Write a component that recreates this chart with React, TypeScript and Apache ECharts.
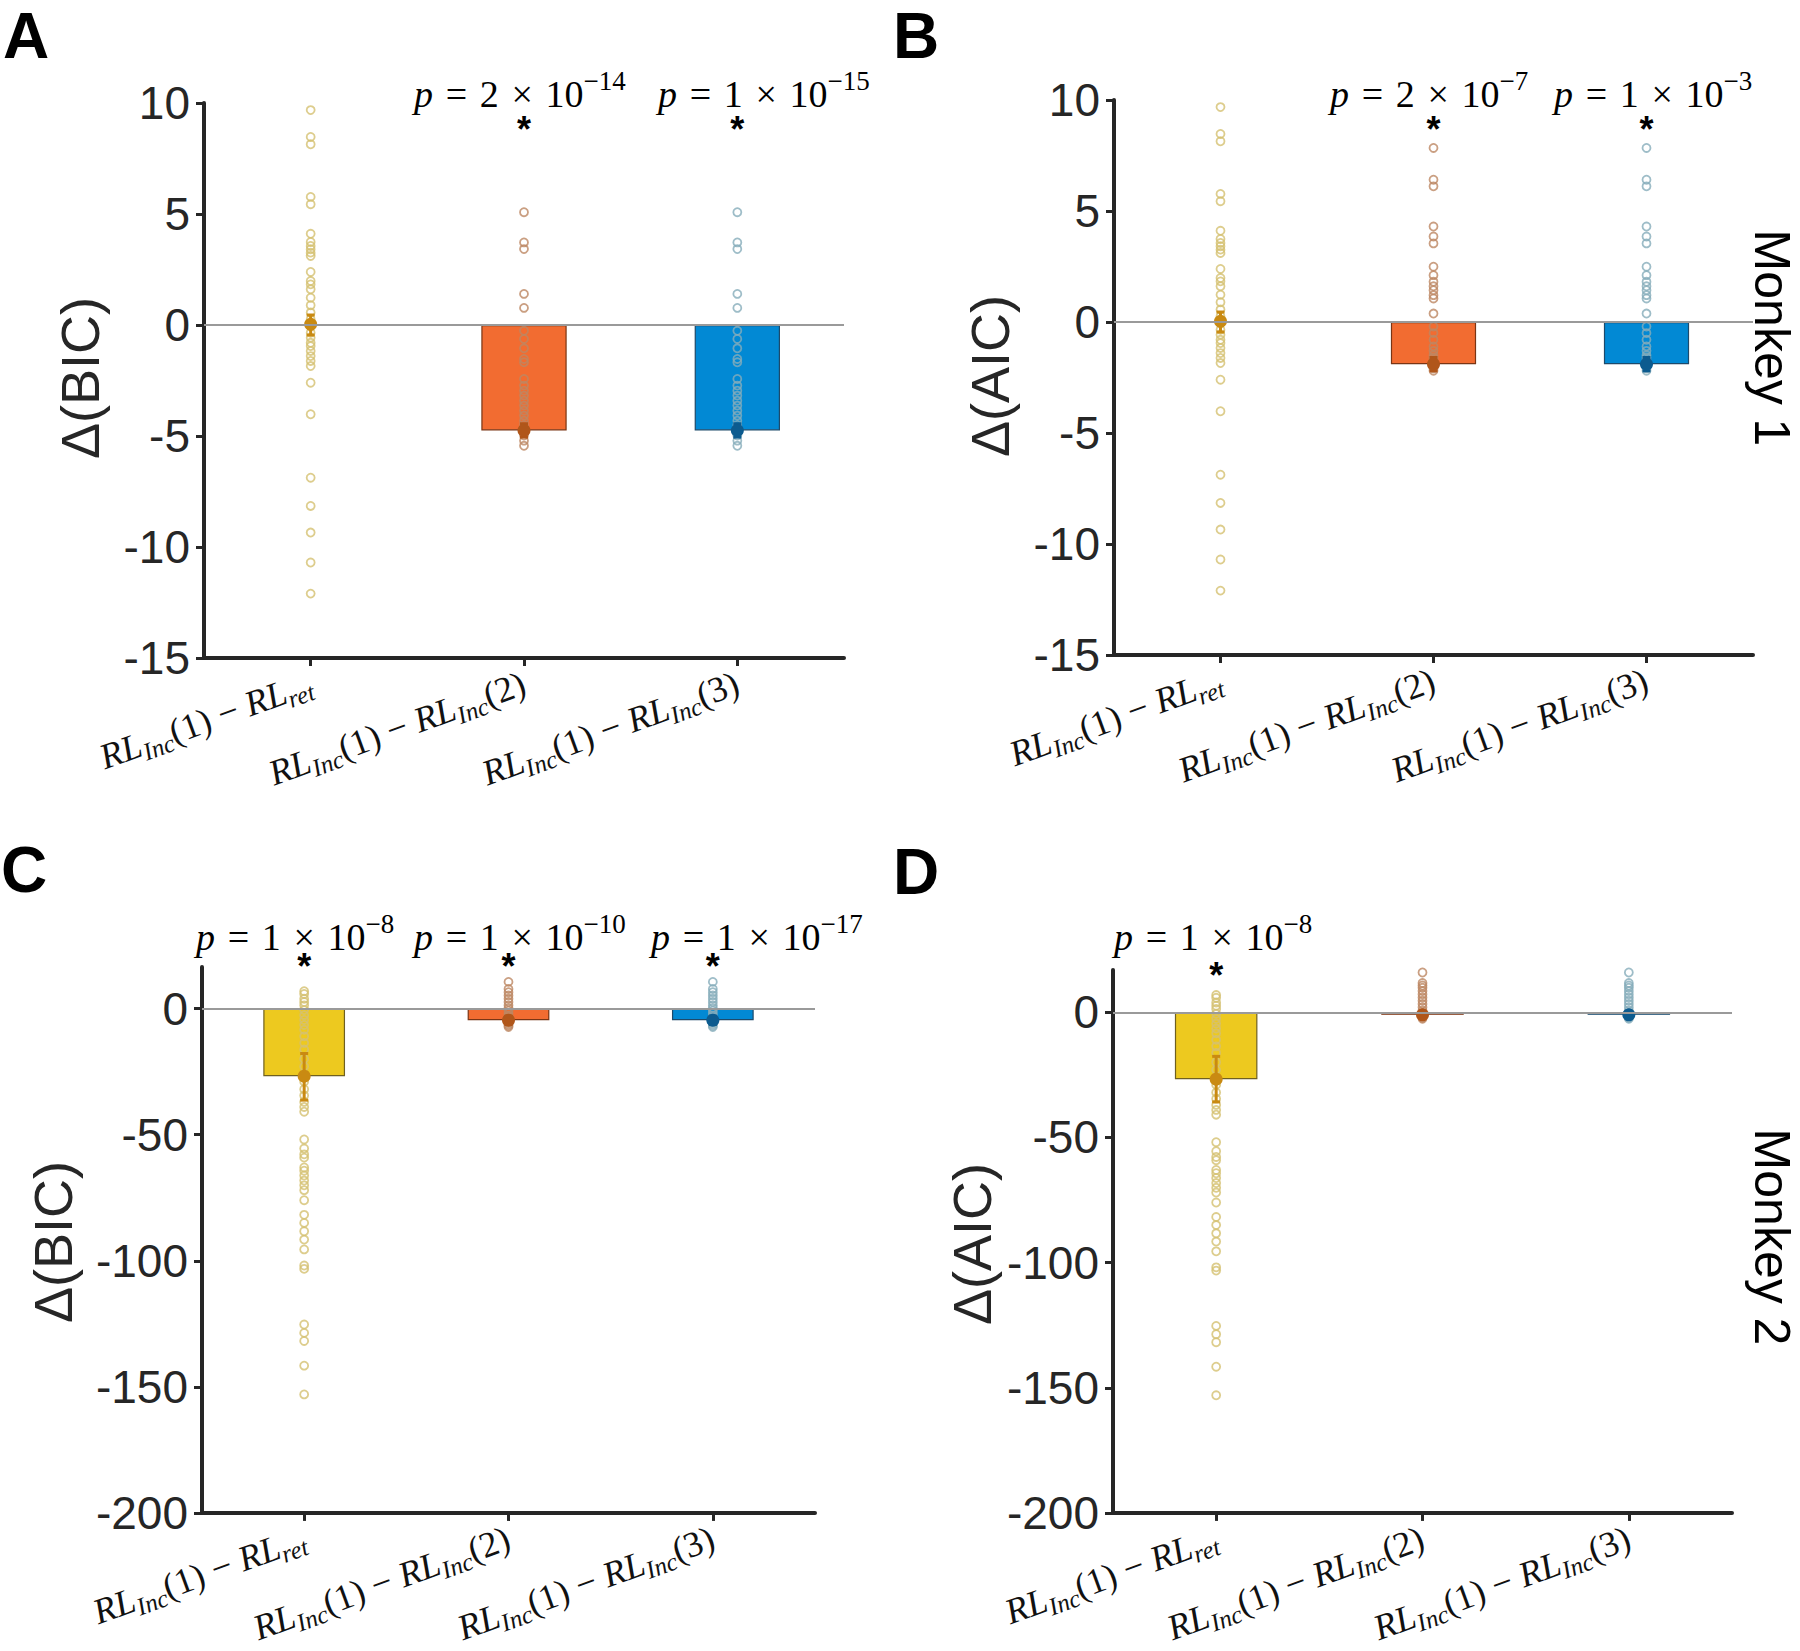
import React, { useEffect, useRef } from "react";
import * as echarts from "echarts";

// ---------- data ----------
const categories = ["RL_{Inc}(1) − RL_{ret}", "RL_{Inc}(1) − RL_{Inc}(2)", "RL_{Inc}(1) − RL_{Inc}(3)"];

// Monkey 1: RL_Inc(1) − RL_ret (identical in ΔBIC and ΔAIC panels)
const m1RetPts = [9.68, 8.47, 8.14, 5.77, 5.44, 4.11, 3.74, 3.56, 3.41, 3.26, 3.11, 2.39, 1.98, 1.83, 1.61, 1.23, 0.89, 0.56, 0.26,
  -0.35, -0.57, -0.8, -0.95, -1.17, -1.4, -1.62, -1.85, -2.6, -4.02, -6.88, -8.15, -9.35, -10.7, -12.1];
// Monkey 1: RL_Inc(1) − RL_Inc(2/3), ΔBIC
const m1BicIncPts = [5.08, 3.72, 3.42, 1.4, 0.77, -0.26, -0.63, -1.05, -1.53, -1.68, -2.43, -2.73, -2.96, -3.18, -3.41, -3.63,
  -3.86, -4.08, -4.31, -4.5, -4.62, -4.7, -4.76, -4.8, -4.85, -4.98, -5.21, -5.44];
// Monkey 1: RL_Inc(1) − RL_Inc(2/3), ΔAIC
const m1AicIncPts = [7.84, 6.41, 6.11, 4.3, 3.85, 3.54, 2.49, 2.11, 1.81, 1.61, 1.43, 1.21, 1.06, 0.38, -0.2, -0.5, -0.8, -1.1,
  -1.3, -1.5, -1.6, -1.7, -1.8, -1.9, -2.0, -2.1, -2.2];
// Monkey 2: RL_Inc(1) − RL_ret (identical in ΔBIC and ΔAIC panels)
const m2RetPts = [6.9, 5.8, 3.9, 2.6, 1.3, -0.6, -2.6, -4.5, -6.5, -8.4, -11, -13.6, -16.2, -20, -23, -26, -29, -32, -34.5, -37,
  -39, -40.9, -51.9, -55.5, -57.8, -59.1, -63, -64.3, -66.2, -68.2, -70.1, -72, -76, -81.8, -85, -88.3, -91.6, -95.5, -101.9,
  -103.2, -125.3, -128.6, -131.8, -141.6, -153];
const m2BicIncPts = [10.6, 7.8, 6.5, 5.2, 3.9, 2.6, 1.3, 0.2, -0.8, -1.8, -2.8, -3.6, -4.4, -5.0, -5.6, -6.2, -6.8, -7.3];
const m2AicIncPts = [15.9, 11.7, 10.7, 9.8, 8.5, 7.2, 5.9, 4.6, 3.3, 2.0, 0.7, -0.3, -1.0, -1.6, -2.2, -2.6];

// bar heights (means) and error bar ends
const m1BicBars = [0.03, -4.75, -4.75];
const m1BicLo = [-0.45, -5.05, -5.05];
const m1BicHi = [0.45, -4.45, -4.45];
const m1AicBars = [0.03, -1.9, -1.9];
const m1AicLo = [-0.45, -2.2, -2.2];
const m1AicHi = [0.45, -1.6, -1.6];
const m2BicBars = [-26.8, -4.6, -4.6];
const m2BicLo = [-36.3, -6.3, -6.3];
const m2BicHi = [-17.8, -3.0, -3.0];
const m2AicBars = [-26.7, -1.0, -1.0];
const m2AicLo = [-35.8, -2.5, -2.5];
const m2AicHi = [-17.6, 0.4, 0.4];

// p-values (mantissa, exponent); null = none
const pMantA = [null, "2", "1"];
const pExpA = [null, "−14", "−15"];
const pMantB = [null, "2", "1"];
const pExpB = [null, "−7", "−3"];
const pMantC = ["1", "1", "1"];
const pExpC = ["−8", "−10", "−17"];
const pMantD = ["1", null, null];
const pExpD = ["−8", null, null];

const yTicksM2 = [-200, -150, -100, -50, 0];

// ---------- styles ----------
const INK = "#262626";
const SANS = '"Liberation Sans", Arial, Helvetica, sans-serif';
const SERIF = '"Liberation Serif", "Times New Roman", serif';
const barColors = ["#EDC91F", "#F26C31", "#0289D4"];
const barEdges = ["#6f6020", "#7a3514", "#1d4a6b"];
const ptColors = ["#D4C070", "#BD8763", "#86ADBA"];
const meanColors = ["#C98A12", "#B0561A", "#0C5B8F"];

const xRich = {
  it: { fontFamily: SERIF, fontStyle: "italic", fontSize: 36, lineHeight: 44, color: "#111" },
  rm: { fontFamily: SERIF, fontSize: 36, lineHeight: 44, color: "#111" },
  sub: { fontFamily: SERIF, fontStyle: "italic", fontSize: 25, lineHeight: 22, verticalAlign: "bottom", color: "#111" },
};
const pRich = {
  it: { fontFamily: SERIF, fontStyle: "italic", fontSize: 38, lineHeight: 54, color: "#111" },
  rm: { fontFamily: SERIF, fontSize: 38, lineHeight: 54, color: "#111" },
  sup: { fontFamily: SERIF, fontSize: 27, lineHeight: 32, verticalAlign: "top", color: "#111" },
};

function richLabel(s: string) {
  return s
    .split(/(RL_\{\w+\})/)
    .filter((p) => p.length > 0)
    .map((p) => {
      const m = p.match(/^RL_\{(\w+)\}$/);
      return m ? `{it|RL}{sub|${m[1]}}` : `{rm|${p}}`;
    })
    .join("");
}

const panels = [
  {
    letter: "A", letterPos: [3, 36],
    grid: { left: 204, top: 103, width: 640, height: 555 },
    min: -15, max: 10, interval: 5, ticks: null as number[] | null,
    pts: [m1RetPts, m1BicIncPts, m1BicIncPts], bars: m1BicBars, lo: m1BicLo, hi: m1BicHi,
    title: "Δ(BIC)", titlePos: [80, 378],
    pMant: pMantA, pExp: pExpA, pLeft: [0, 414, 658], pBase: 107, starY: 122,
  },
  {
    letter: "B", letterPos: [893, 36],
    grid: { left: 1114, top: 100, width: 639, height: 555 },
    min: -15, max: 10, interval: 5, ticks: null as number[] | null,
    pts: [m1RetPts, m1AicIncPts, m1AicIncPts], bars: m1AicBars, lo: m1AicLo, hi: m1AicHi,
    title: "Δ(AIC)", titlePos: [990, 376],
    pMant: pMantB, pExp: pExpB, pLeft: [0, 1330, 1554], pBase: 107, starY: 122,
  },
  {
    letter: "C", letterPos: [1, 870],
    grid: { left: 202, top: 967, width: 613, height: 555 },
    min: -200, max: 16.5, interval: 50, ticks: yTicksM2,
    pts: [m2RetPts, m2BicIncPts, m2BicIncPts], bars: m2BicBars, lo: m2BicLo, hi: m2BicHi,
    title: "Δ(BIC)", titlePos: [53, 1242],
    pMant: pMantC, pExp: pExpC, pLeft: [196, 414, 651], pBase: 950, starY: 959,
  },
  {
    letter: "D", letterPos: [893, 872],
    grid: { left: 1113, top: 970, width: 619, height: 555 },
    min: -200, max: 16.9, interval: 50, ticks: yTicksM2,
    pts: [m2RetPts, m2AicIncPts, m2AicIncPts], bars: m2AicBars, lo: m2AicLo, hi: m2AicHi,
    title: "Δ(AIC)", titlePos: [972, 1244],
    pMant: pMantD, pExp: pExpD, pLeft: [1114, 0, 0], pBase: 950, starY: 968,
  },
];

function renderErr(params: any, api: any) {
  const cat = api.value(0);
  const pm = api.coord([cat, api.value(1)]);
  const pl = api.coord([cat, api.value(2)]);
  const ph = api.coord([cat, api.value(3)]);
  const col = meanColors[cat];
  const ls = { stroke: col, lineWidth: 3 };
  return {
    type: "group",
    children: [
      { type: "line", shape: { x1: pl[0], y1: pl[1], x2: ph[0], y2: ph[1] }, style: ls },
      { type: "line", shape: { x1: pl[0] - 4, y1: pl[1], x2: pl[0] + 4, y2: pl[1] }, style: ls },
      { type: "line", shape: { x1: ph[0] - 4, y1: ph[1], x2: ph[0] + 4, y2: ph[1] }, style: ls },
      { type: "circle", shape: { cx: pm[0], cy: pm[1], r: 6.5 }, style: { fill: col } },
    ],
  };
}

function buildOption() {
  const grid: any[] = [];
  const xAxis: any[] = [];
  const yAxis: any[] = [];
  const series: any[] = [];
  panels.forEach((p, i) => {
    grid.push({ ...p.grid, containLabel: false });
    xAxis.push({
      type: "category",
      gridIndex: i,
      data: categories,
      axisLine: { show: true, onZero: false, lineStyle: { color: INK, width: 4 } },
      axisTick: { show: true, alignWithLabel: true, length: 8, lineStyle: { color: INK, width: 3 } },
      axisLabel: { interval: 0, rotate: 20, margin: 24, formatter: (v: string) => richLabel(v), rich: xRich },
      splitLine: { show: false },
    });
    const tickExtra = p.ticks ? { customValues: p.ticks } : {};
    yAxis.push({
      type: "value",
      gridIndex: i,
      min: p.min,
      max: p.max,
      interval: p.interval,
      axisLine: { show: true, lineStyle: { color: INK, width: 4 } },
      axisTick: { show: true, length: 8, lineStyle: { color: INK, width: 3 }, ...tickExtra },
      axisLabel: { fontSize: 46, fontFamily: SANS, color: INK, margin: 14, ...tickExtra },
      splitLine: { show: false },
    });
    series.push({
      type: "bar",
      xAxisIndex: i,
      yAxisIndex: i,
      barWidth: "40%",
      z: 2,
      data: p.bars.map((v, k) => ({
        value: v,
        itemStyle: { color: barColors[k], borderColor: barEdges[k], borderWidth: 1.2 },
      })),
      markLine: {
        silent: true,
        symbol: ["none", "none"],
        label: { show: false },
        lineStyle: { color: "#9a9a9a", width: 2, type: "solid" },
        data: [{ yAxis: 0 }],
      },
    });
    p.pts.forEach((arr, k) => {
      series.push({
        type: "scatter",
        xAxisIndex: i,
        yAxisIndex: i,
        z: 3,
        symbol: "circle",
        symbolSize: 8,
        itemStyle: { color: "rgba(255,255,255,0)", borderColor: ptColors[k], borderWidth: 1.8 },
        data: arr.map((v) => [k, v]),
      });
    });
    series.push({
      type: "custom",
      xAxisIndex: i,
      yAxisIndex: i,
      z: 4,
      renderItem: renderErr,
      encode: { x: 0, y: [1, 2, 3] },
      data: p.bars.map((v, k) => [k, v, p.lo[k], p.hi[k]]),
    });
  });
  return { animation: false, backgroundColor: "#ffffff", grid, xAxis, yAxis, series };
}

function buildGraphics(chart: any) {
  const els: any[] = [];
  panels.forEach((p, i) => {
    els.push({
      type: "text", x: p.letterPos[0], y: p.letterPos[1],
      style: { text: p.letter, fontFamily: SANS, fontWeight: "bold", fontSize: 64, lineHeight: 52, fill: "#000", align: "left", verticalAlign: "middle" },
    });
    els.push({
      type: "text", x: p.titlePos[0], y: p.titlePos[1], rotation: Math.PI / 2,
      style: { text: p.title, fontFamily: SANS, fontSize: 54, fill: INK, align: "center", verticalAlign: "middle" },
    });
    p.pMant.forEach((m, k) => {
      if (m === null) return;
      const cx = chart.convertToPixel({ gridIndex: i }, [k, 0])[0];
      els.push({
        type: "text", x: p.pLeft[k], y: p.pBase - 13,
        style: {
          text: `{it|p}{rm|\u2004=\u2004${m}\u2004×\u200410}{sup|${p.pExp[k]}}`,
          rich: pRich, align: "left", verticalAlign: "middle",
        },
      });
      els.push({
        type: "text", x: cx, y: p.starY + 7,
        style: { text: "*", fontFamily: SANS, fontWeight: "bold", fontSize: 36, lineHeight: 12, fill: "#000", align: "center", verticalAlign: "middle" },
      });
    });
  });
  els.push({
    type: "text", x: 1772, y: 338, rotation: -Math.PI / 2,
    style: { text: "Monkey 1", fontFamily: SANS, fontSize: 50, lineHeight: 46, fill: "#000", align: "center", verticalAlign: "middle" },
  });
  els.push({
    type: "text", x: 1772, y: 1237, rotation: -Math.PI / 2,
    style: { text: "Monkey 2", fontFamily: SANS, fontSize: 50, lineHeight: 46, fill: "#000", align: "center", verticalAlign: "middle" },
  });
  return els;
}

export default function App() {
  const ref = useRef<HTMLDivElement>(null);
  useEffect(() => {
    const chart = echarts.init(ref.current as HTMLDivElement, null, { renderer: "svg" });
    chart.setOption(buildOption());
    chart.setOption({ graphic: buildGraphics(chart) });
    return () => chart.dispose();
  }, []);
  return (
    <div
      ref={ref}
      style={{ position: "absolute", left: 0, top: 0, width: 1800, height: 1651, background: "#fff" }}
    />
  );
}
